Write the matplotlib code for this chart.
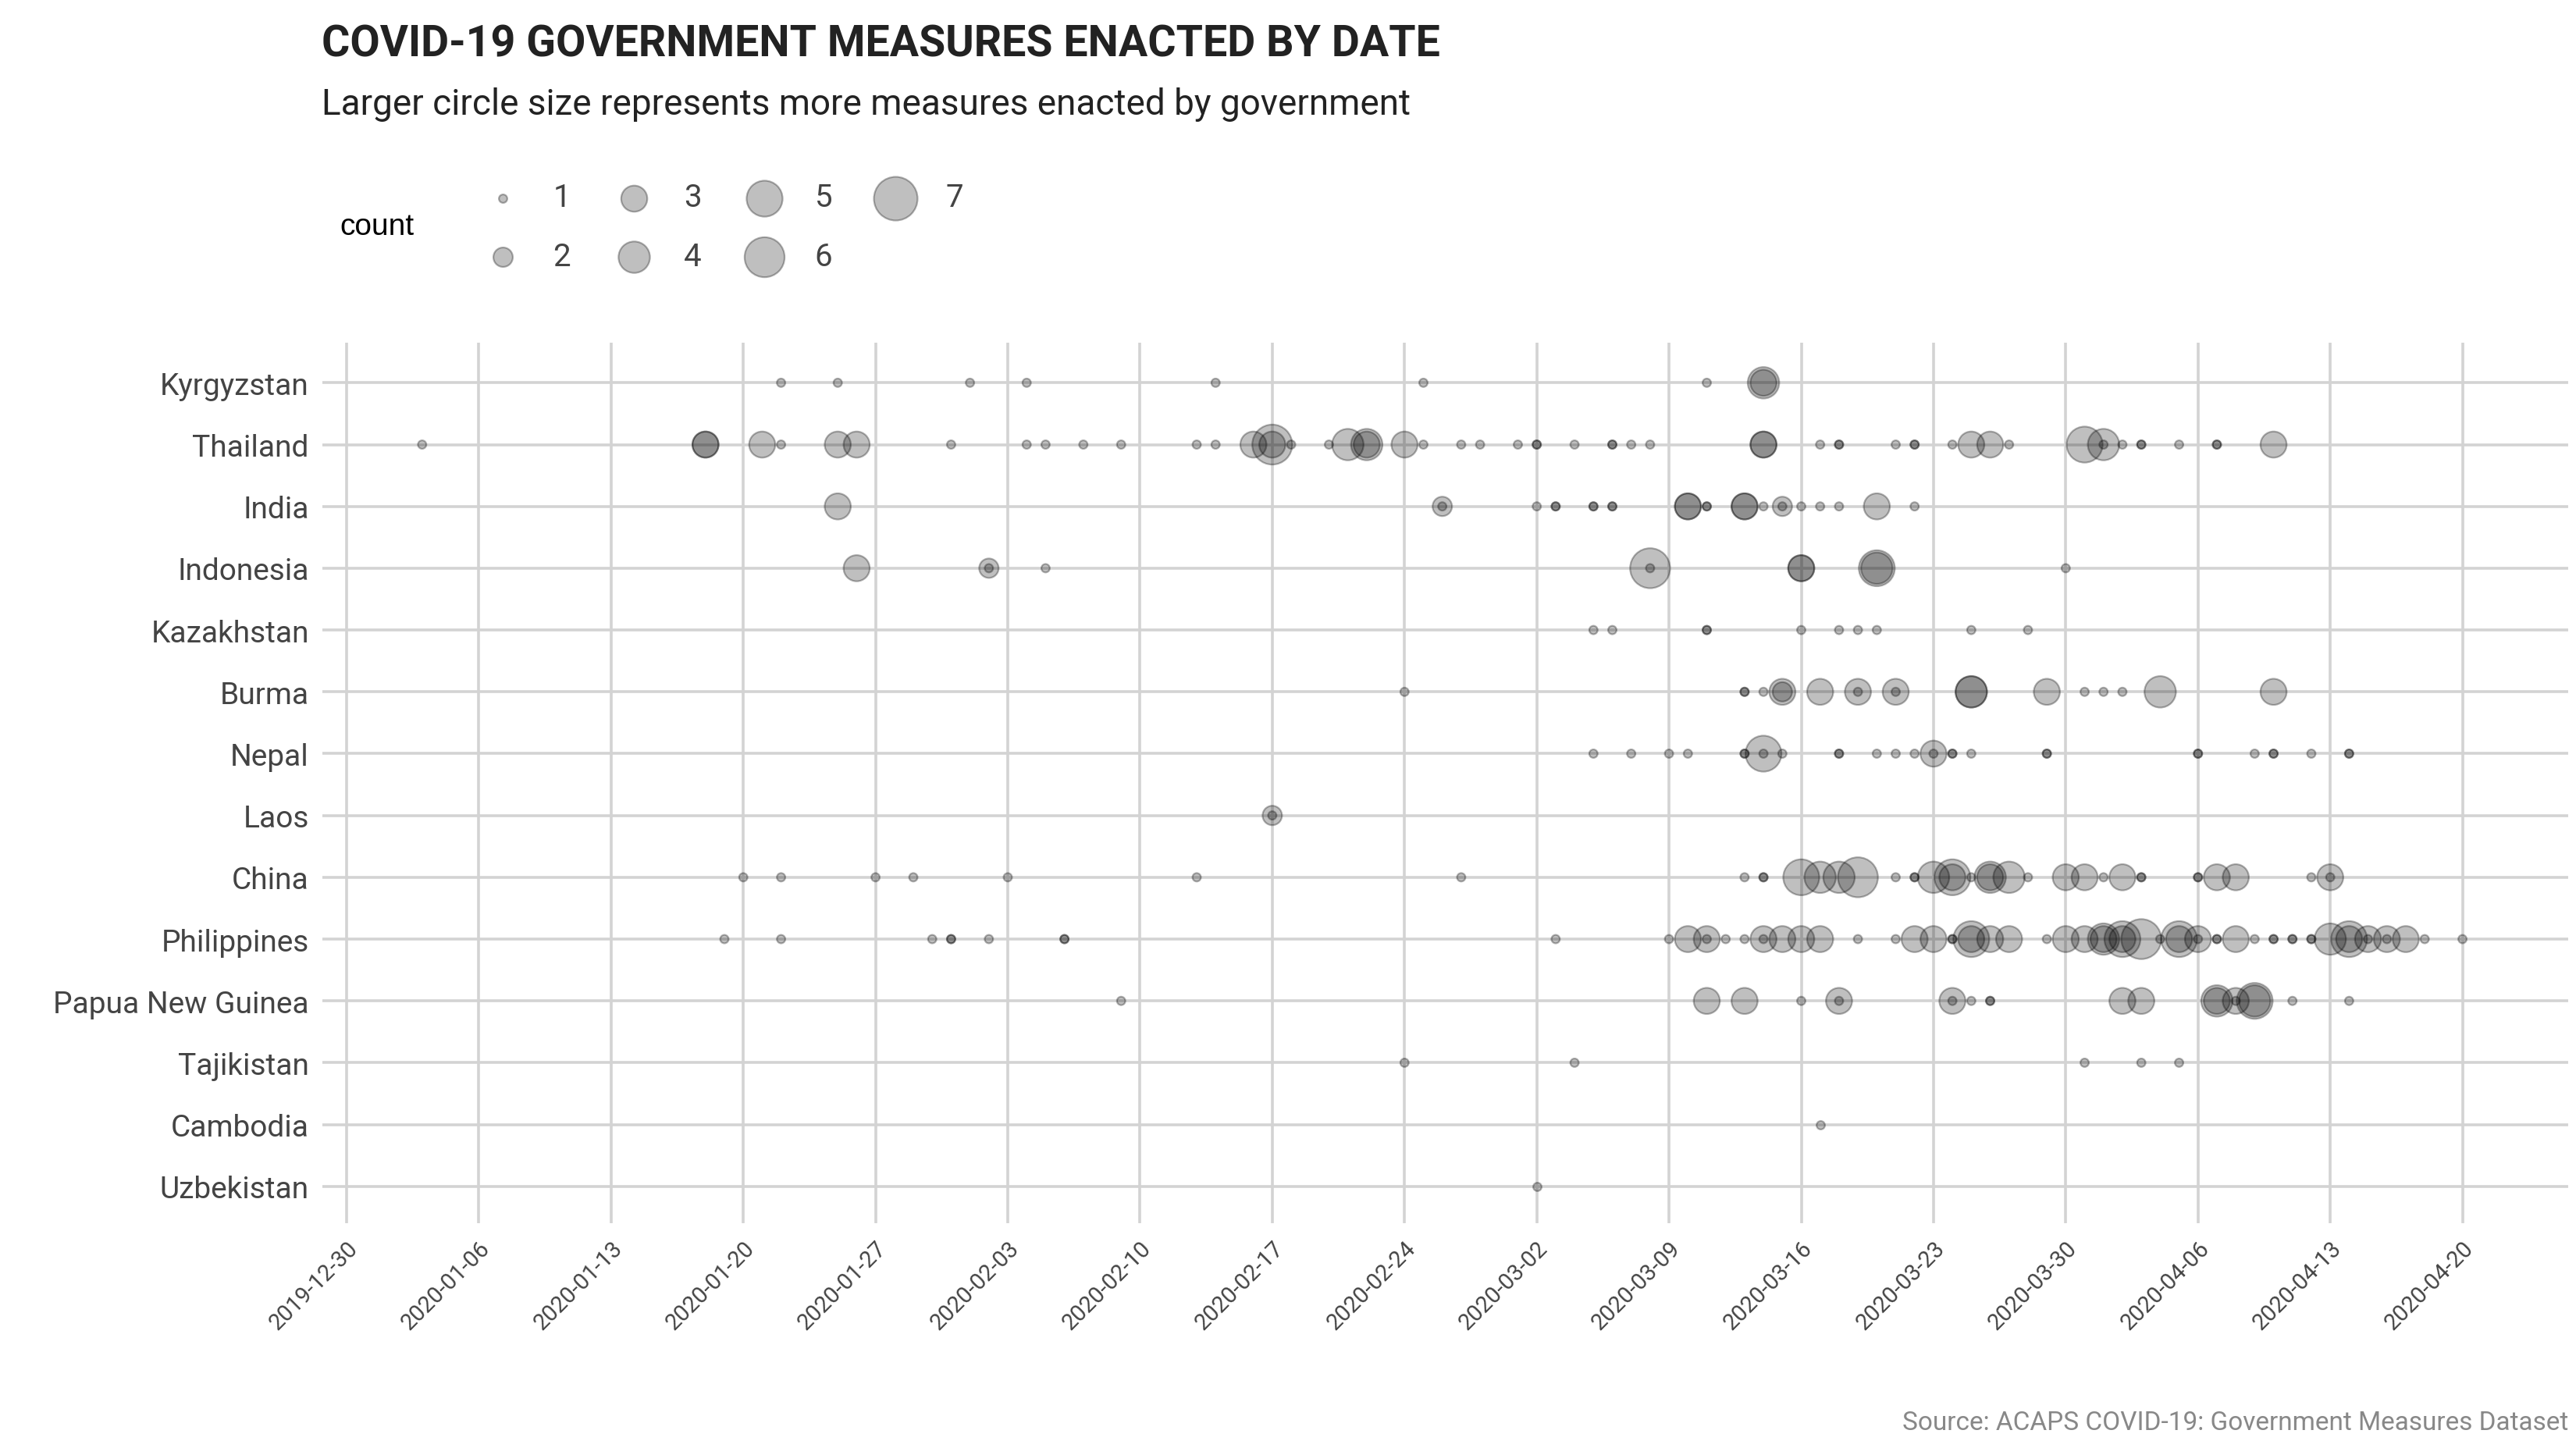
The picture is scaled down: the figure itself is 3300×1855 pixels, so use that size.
import numpy as np
import pandas as pd
import matplotlib
matplotlib.use("Agg")
import matplotlib.pyplot as plt

# --- DATA (day offset from 2019-12-30, measures enacted that day) ---
BASE = pd.Timestamp("2019-12-30")

countries = ["Kyrgyzstan", "Thailand", "India", "Indonesia", "Kazakhstan", "Burma",
             "Nepal", "Laos", "China", "Philippines", "Papua New Guinea",
             "Tajikistan", "Cambodia", "Uzbekistan"]

kyrgyzstan_days = [23, 26, 33, 36, 46, 57, 72, 75, 75]
kyrgyzstan_cnt = [1, 1, 1, 1, 1, 1, 1, 4, 3]

thailand_days = [4, 19, 19, 22, 23, 26, 27, 32, 36, 37, 39, 41, 45, 46, 48, 49, 49, 50, 52,
                 53, 54, 54, 56, 57, 59, 60, 62, 63, 63, 65, 67, 67, 68, 69, 75, 75, 78, 79, 79,
                 82, 83, 83, 85, 86, 87, 88, 92, 93, 93, 94, 95, 95, 97, 99, 99, 102]
thailand_cnt = [1, 3, 3, 3, 1, 3, 3, 1, 1, 1, 1, 1, 1, 1, 3, 6, 3, 1, 1,
                4, 4, 3, 3, 1, 1, 1, 1, 1, 1, 1, 1, 1, 1, 1, 3, 3, 1, 1, 1,
                1, 1, 1, 1, 3, 3, 1, 5, 4, 1, 1, 1, 1, 1, 1, 1, 3]

india_days = [26, 58, 58, 63, 64, 64, 66, 66, 67, 67, 71, 71, 72, 72, 74, 74, 75, 76, 76, 77, 78, 79, 81, 83]
india_cnt = [3, 2, 1, 1, 1, 1, 1, 1, 1, 1, 3, 3, 1, 1, 3, 3, 1, 2, 1, 1, 1, 1, 3, 1]

indonesia_days = [27, 34, 34, 37, 69, 69, 77, 77, 81, 81, 91]
indonesia_cnt = [3, 2, 1, 1, 6, 1, 3, 3, 5, 4, 1]

kazakhstan_days = [66, 67, 72, 72, 77, 79, 80, 81, 86, 89]
kazakhstan_cnt = [1, 1, 1, 1, 1, 1, 1, 1, 1, 1]

burma_days = [56, 74, 74, 75, 76, 76, 78, 80, 80, 82, 82, 86, 86, 90, 92, 93, 94, 96, 102]
burma_cnt = [1, 1, 1, 1, 3, 2, 3, 3, 1, 3, 1, 4, 4, 3, 1, 1, 1, 4, 3]

nepal_days = [66, 68, 70, 71, 74, 74, 75, 75, 76, 79, 79, 81, 82, 83, 84, 84, 85, 85,
              86, 90, 90, 98, 98, 101, 102, 102, 104, 106, 106]
nepal_cnt = [1, 1, 1, 1, 1, 1, 5, 1, 1, 1, 1, 1, 1, 1, 3, 1, 1, 1,
             1, 1, 1, 1, 1, 1, 1, 1, 1, 1, 1]

laos_days = [49, 49]
laos_cnt = [2, 1]

china_days = [21, 23, 28, 30, 35, 45, 59, 74, 75, 75, 77, 78, 79, 80, 82, 83, 83, 84, 85, 85,
              86, 87, 87, 88, 89, 91, 92, 93, 94, 95, 95, 98, 98, 99, 100, 104, 105, 105]
china_cnt = [1, 1, 1, 1, 1, 1, 1, 1, 1, 1, 5, 4, 4, 6, 1, 1, 1, 4, 5, 3,
             1, 4, 3, 4, 1, 3, 3, 1, 3, 1, 1, 1, 1, 3, 3, 1, 3, 1]

philippines_days = [20, 23, 31, 32, 32, 34, 38, 38, 64, 70, 71, 72, 72, 73, 74, 75, 75, 76, 77,
                    78, 80, 82, 83, 84, 85, 85, 86, 86, 87, 88, 90, 91, 92, 93, 93, 94, 94, 95,
                    96, 97, 97, 98, 98, 99, 99, 100, 101, 102, 102, 103, 103, 104, 104, 105,
                    106, 106, 107, 107, 108, 108, 109, 110, 112]
philippines_cnt = [1, 1, 1, 1, 1, 1, 1, 1, 1, 1, 3, 3, 1, 1, 1, 3, 1, 3, 3,
                   3, 1, 1, 3, 3, 1, 1, 5, 3, 3, 3, 1, 3, 3, 4, 3, 5, 3, 6,
                   1, 5, 3, 3, 1, 1, 1, 3, 1, 1, 1, 1, 1, 1, 1, 4,
                   5, 3, 3, 1, 3, 1, 3, 1, 1]

png_days = [41, 72, 74, 77, 79, 79, 85, 85, 86, 87, 87, 94, 95, 99, 99, 100, 100, 101, 101, 103, 106]
png_cnt = [1, 3, 3, 1, 3, 1, 3, 1, 1, 1, 1, 3, 3, 4, 3, 3, 1, 5, 4, 1, 1]

tajikistan_days = [56, 65, 92, 95, 97]
tajikistan_cnt = [1, 1, 1, 1, 1]

cambodia_days = [78]
cambodia_cnt = [1]

uzbekistan_days = [63]
uzbekistan_cnt = [1]

series = [(kyrgyzstan_days, kyrgyzstan_cnt), (thailand_days, thailand_cnt),
          (india_days, india_cnt), (indonesia_days, indonesia_cnt),
          (kazakhstan_days, kazakhstan_cnt), (burma_days, burma_cnt),
          (nepal_days, nepal_cnt), (laos_days, laos_cnt), (china_days, china_cnt),
          (philippines_days, philippines_cnt), (png_days, png_cnt),
          (tajikistan_days, tajikistan_cnt), (cambodia_days, cambodia_cnt),
          (uzbekistan_days, uzbekistan_cnt)]

legend_counts = [1, 2, 3, 4, 5, 6, 7]


def size_of(c):
    # area-proportional sizes like ggplot scale_size
    return 15 + (np.asarray(c) - 1) / 6 * 390


plt.rcParams['font.family'] = ['Roboto', 'DejaVu Sans']

fig = plt.figure(figsize=(16.5, 9.28), dpi=200)
ax = fig.add_axes([0.125, 0.155, 0.872, 0.608])

n = len(countries)
for i, (days, cnt) in enumerate(series):
    x = BASE + pd.to_timedelta(days, unit="D")
    y = np.full(len(days), n - 1 - i)
    ax.scatter(x, y, s=size_of(cnt), facecolor=(0, 0, 0, 0.25),
               edgecolor=(0, 0, 0, 0.3), linewidth=0.8, zorder=3)

ax.set_yticks(range(n))
ax.set_yticklabels(countries[::-1], fontsize=14, color="#444444")
ax.set_ylim(-0.6, n - 0.35)

ticks = pd.date_range("2019-12-30", "2020-04-20", freq="7D")
ax.set_xticks(ticks)
ax.set_xticklabels([t.strftime("%Y-%m-%d") for t in ticks], rotation=45,
                   ha="right", rotation_mode="anchor", fontsize=10.5, color="#444444")
ax.set_xlim(BASE - pd.Timedelta(days=1.3), BASE + pd.Timedelta(days=117.6))

ax.grid(True, color="#d3d3d3", linewidth=1.3, zorder=0)
ax.set_axisbelow(True)
ax.tick_params(length=0, pad=6)
for sp in ax.spines.values():
    sp.set_visible(False)

fig.text(0.125, 0.969, "COVID-19 GOVERNMENT MEASURES ENACTED BY DATE",
         fontsize=20, fontweight="bold", color="#222222", va="center")
fig.text(0.125, 0.928, "Larger circle size represents more measures enacted by government",
         fontsize=16.5, color="#222222", va="center")
fig.text(0.997, 0.018, "Source: ACAPS COVID-19: Government Measures Dataset",
         fontsize=12, color="#888888", ha="right", va="center")

# size legend
handles = [ax.scatter([], [], s=size_of(c), facecolor=(0, 0, 0, 0.25),
                      edgecolor=(0, 0, 0, 0.3), linewidth=0.8) for c in legend_counts]
fig.text(0.132, 0.843, "count", fontsize=14, family="Liberation Sans", va="center")
fig.legend(handles, [str(c) for c in legend_counts], ncol=4, frameon=False,
           loc="center left", bbox_to_anchor=(0.172, 0.843), fontsize=14.5,
           labelcolor="#444444", columnspacing=1.0, handletextpad=0.6,
           labelspacing=0.9, scatterpoints=1)

fig.savefig("out.png", dpi=200)
